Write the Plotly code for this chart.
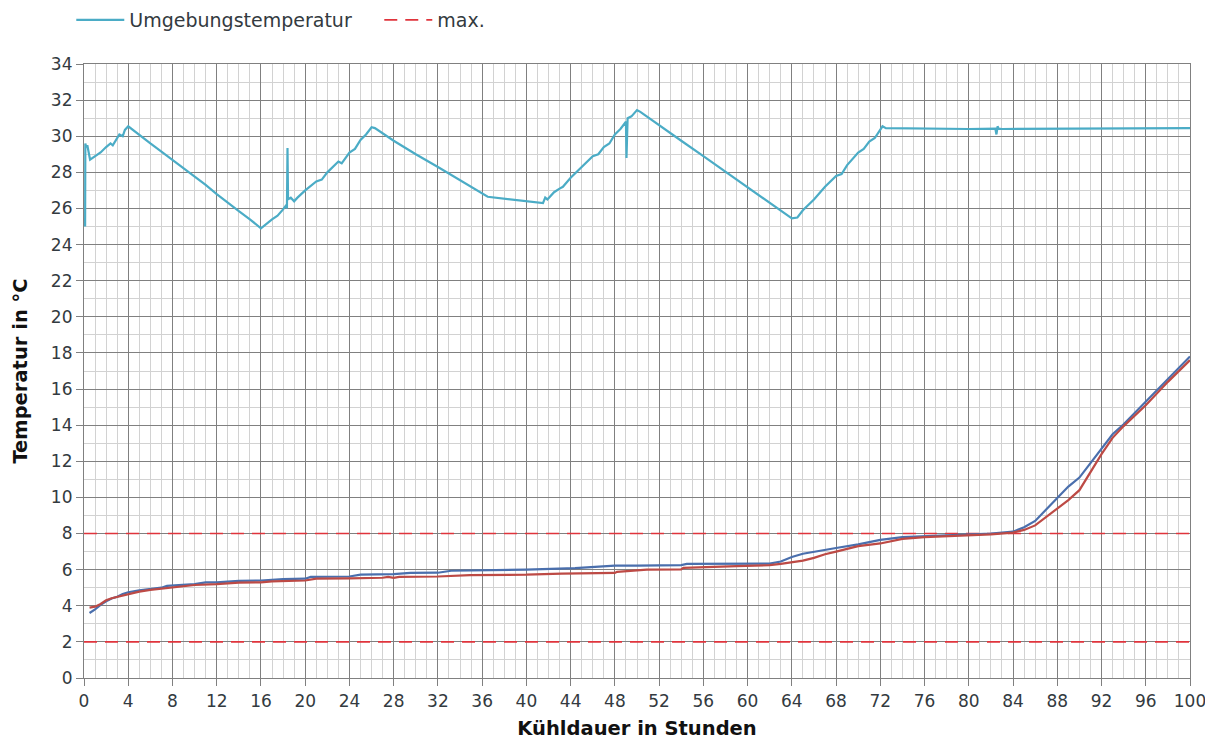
import plotly.graph_objects as go

# Ambient temperature (Umgebungstemperatur)
amb_h = [0.1, 0.12, 0.2, 0.3, 0.55, 0.8, 1.0, 1.5, 2.0, 2.4, 2.6, 3.0, 3.2, 3.5, 3.7, 4.0, 4.3,
         5.0, 6.0, 7.0, 8.0, 9.0, 10.0, 11.0, 12.0, 13.0, 14.0, 15.0, 16.0,
         17.0, 17.5, 18.0, 18.3, 18.35, 18.4, 18.45, 18.7, 19.0, 19.3, 20.0, 21.0, 21.5, 22.0, 23.0, 23.3,
         24.0, 24.5, 25.0, 25.5, 26.0, 26.3,
         28.0, 30.0, 32.0, 34.0, 36.5, 41.5, 41.7, 41.9, 42.5, 43.0, 43.3, 44.0, 45.0, 46.0, 46.5,
         47.0, 47.5, 48.0, 48.5, 49.0, 49.05, 49.1, 49.15, 49.5, 50.0, 50.3,
         52.0, 54.0, 56.0, 58.0, 60.0, 62.0, 64.0, 64.5, 65.0, 66.0, 67.0, 68.0, 68.5, 69.0, 70.0,
         70.5, 71.0, 71.5, 72.0, 72.2, 72.5, 76.0, 80.0, 82.4, 82.5, 82.6, 82.7, 83.0, 88.0, 92.0, 96.0, 100.0]
amb_t = [25.0, 29.6, 29.4, 29.5, 28.7, 28.8, 28.9, 29.1, 29.4, 29.6, 29.5, 29.9, 30.1, 30.0, 30.35, 30.55, 30.4,
         30.1, 29.6, 29.15, 28.7, 28.2, 27.75, 27.3, 26.8, 26.3, 25.85, 25.4, 24.9,
         25.4, 25.6, 25.95, 26.2, 26.0, 29.35, 26.5, 26.6, 26.4, 26.6, 27.0, 27.5, 27.6, 28.0, 28.6, 28.5,
         29.1, 29.3, 29.8, 30.1, 30.5, 30.45,
         29.75, 29.0, 28.3, 27.55, 26.65, 26.3, 26.6, 26.5, 26.9, 27.1, 27.2, 27.7, 28.3, 28.9, 29.0,
         29.4, 29.6, 30.1, 30.4, 30.8, 28.8, 30.9, 31.0, 31.1, 31.45, 31.35,
         30.6, 29.75, 28.9, 28.05, 27.2, 26.35, 25.45, 25.5, 25.9, 26.5, 27.2, 27.8, 27.9, 28.4, 29.1,
         29.3, 29.7, 29.9, 30.35, 30.55, 30.45, 30.42, 30.4, 30.42, 30.1, 30.55, 30.42, 30.4, 30.42, 30.4, 30.42, 30.45]

# Sensor 1 (blue)
blue_h = [0.5, 1.0, 1.5, 2.0, 2.5, 3.0, 3.5, 4.0, 5.0, 6.0, 7.0, 7.5, 8.0, 10.0, 11.0, 12.0, 14.0, 16.0, 18.0,
          20.0, 20.5, 24.0, 25.0, 28.0, 29.5, 32.0, 33.2, 36.0, 40.0, 44.4, 48.0, 50.0, 54.0, 54.5, 56.0,
          60.0, 62.0, 63.0, 64.0, 65.0, 66.0, 68.0, 70.0, 72.0, 74.0, 76.0, 78.0, 80.0, 82.0, 84.0, 85.0,
          86.0, 87.0, 88.0, 89.0, 90.0, 91.0, 92.0, 93.0, 94.0, 96.0, 98.0, 100.0]
blue_t = [3.6, 3.8, 4.05, 4.25, 4.4, 4.5, 4.65, 4.75, 4.85, 4.92, 5.0, 5.1, 5.12, 5.2, 5.3, 5.3, 5.38, 5.4, 5.48,
          5.5, 5.6, 5.62, 5.72, 5.75, 5.82, 5.83, 5.94, 5.95, 6.0, 6.08, 6.22, 6.22, 6.25, 6.32, 6.32,
          6.33, 6.33, 6.45, 6.7, 6.88, 7.0, 7.2, 7.4, 7.65, 7.8, 7.85, 7.9, 7.95, 8.0, 8.1, 8.35,
          8.7, 9.35, 10.0, 10.6, 11.1, 11.9, 12.75, 13.5, 14.05, 15.3, 16.6, 17.8]

# Sensor 2 (red)
red_h = [0.5, 1.0, 1.5, 2.0, 2.5, 3.0, 4.0, 5.0, 6.0, 7.0, 8.0, 9.0, 10.0, 12.0, 14.0, 16.0, 17.0, 20.0, 21.0,
         24.0, 27.0, 27.5, 28.0, 28.5, 29.0, 32.0, 34.9, 36.0, 40.0, 43.2, 44.0, 48.0, 48.2, 50.9, 54.0, 54.2,
         59.0, 60.0, 62.0, 63.0, 64.0, 65.0, 66.0, 67.0, 68.0, 70.0, 72.0, 74.0, 76.0, 78.0, 80.0, 82.0, 84.0,
         85.0, 86.0, 87.0, 88.0, 89.0, 90.0, 91.0, 92.0, 93.0, 94.0, 96.0, 98.0, 100.0]
red_t = [3.9, 3.95, 4.1, 4.3, 4.42, 4.5, 4.65, 4.78, 4.88, 4.95, 5.05, 5.1, 5.15, 5.2, 5.28, 5.3, 5.35, 5.4, 5.5,
         5.52, 5.55, 5.6, 5.55, 5.6, 5.6, 5.62, 5.7, 5.7, 5.72, 5.78, 5.78, 5.82, 5.88, 6.0, 6.02, 6.1,
         6.2, 6.22, 6.25, 6.32, 6.4, 6.5, 6.65, 6.85, 7.0, 7.3, 7.45, 7.7, 7.8, 7.85, 7.9, 7.95, 8.05,
         8.2, 8.45, 8.9, 9.4, 9.85, 10.4, 11.4, 12.4, 13.3, 13.95, 15.1, 16.4, 17.6]

# Limits (max. / min.)
limit_h = [0, 100]
limit_max = [8, 8]
limit_min = [2, 2]

x_ticks = list(range(0, 101, 4))
y_ticks = list(range(0, 35, 2))

FONT = "DejaVu Sans"
TXT = "#333a40"
GRID_MAJ = "#808080"
GRID_MIN = "#d2d2d2"

fig = go.Figure()
fig.add_trace(go.Scatter(x=amb_h, y=amb_t, mode="lines", name="Umgebungstemperatur",
                         line=dict(color="#4bacc6", width=2.2)))
fig.add_trace(go.Scatter(x=limit_h, y=limit_max, mode="lines", name="max.",
                         line=dict(color="#e0343c", width=1.6, dash="13px,8px")))
fig.add_trace(go.Scatter(x=limit_h, y=limit_min, mode="lines", name="min.", showlegend=False,
                         line=dict(color="#e0343c", width=1.6, dash="13px,8px")))
fig.add_trace(go.Scatter(x=blue_h, y=blue_t, mode="lines", name="Fühler 1", showlegend=False,
                         line=dict(color="#4a6fad", width=2.2)))
fig.add_trace(go.Scatter(x=red_h, y=red_t, mode="lines", name="Fühler 2", showlegend=False,
                         line=dict(color="#bd4a45", width=2.2)))

fig.update_layout(
    width=1205, height=732,
    margin=dict(l=76, r=23, t=56, b=62, autoexpand=False),
    paper_bgcolor="white", plot_bgcolor="white",
    font=dict(family=FONT, size=16, color=TXT),
    legend=dict(orientation="h", x=-0.0115, xanchor="left", y=1.0717, yanchor="middle",
                font=dict(family=FONT, size=19, color=TXT), entrywidth=245, entrywidthmode="pixels",
                itemwidth=48, bgcolor="rgba(0,0,0,0)"),
    xaxis=dict(range=[0, 100], tickvals=x_ticks, ticks="outside", ticklen=7, tickcolor=GRID_MAJ,
               showgrid=True, gridcolor=GRID_MAJ, gridwidth=1.2, zeroline=False,
               showline=True, linecolor=GRID_MAJ, linewidth=1.2, mirror=True, automargin=False,
               minor=dict(dtick=1, showgrid=True, gridcolor=GRID_MIN, gridwidth=1),
               tickfont=dict(family=FONT, size=17, color=TXT),
               title=dict(text="<b>Kühldauer in Stunden</b>", font=dict(family=FONT, size=19.5, color="#111"),
                          standoff=18)),
    yaxis=dict(range=[0, 34], tickvals=y_ticks, ticks="outside", ticklen=7, tickcolor=GRID_MAJ,
               showgrid=True, gridcolor=GRID_MAJ, gridwidth=1.2, zeroline=False,
               showline=True, linecolor=GRID_MAJ, linewidth=1.2, mirror=True, automargin=False,
               minor=dict(dtick=1, showgrid=True, gridcolor=GRID_MIN, gridwidth=1),
               tickfont=dict(family=FONT, size=17, color=TXT),
               title=dict(text="<b>Temperatur in °C</b>", font=dict(family=FONT, size=19.5, color="#111"),
                          standoff=18)),
)

fig.write_html("out.html")
